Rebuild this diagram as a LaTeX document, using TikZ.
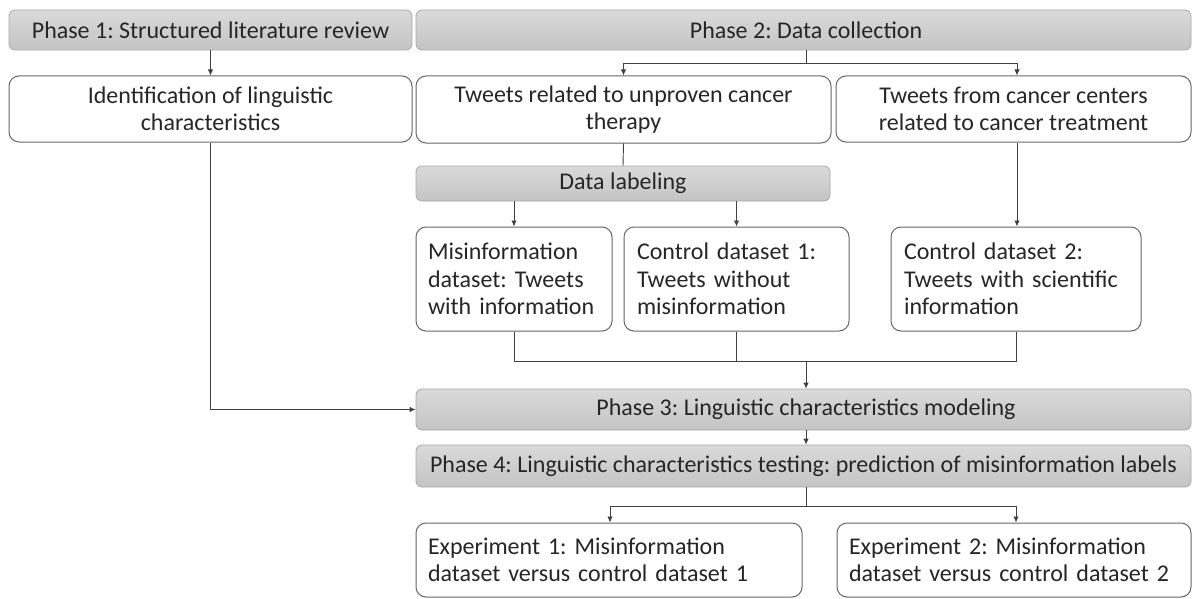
\documentclass[tikz,border=0pt]{standalone}
\usepackage{fontspec}
\setmainfont{Carlito}
\frenchspacing
\usetikzlibrary{arrows.meta,calc}
\definecolor{lineC}{HTML}{404040}
\definecolor{barTop}{HTML}{DADADA}
\definecolor{barBot}{HTML}{C4C4C4}
\definecolor{barBorder}{HTML}{A8A8A8}
\tikzset{
  bar/.style={draw=barBorder, line width=0.8pt, top color=barTop, bottom color=barBot, rounded corners=6pt, inner sep=0pt, font=\fontsize{24}{27.5}\selectfont, text=black!85},
  wbox/.style={draw=lineC!80, line width=1pt, fill=white, rounded corners=10pt, inner sep=0pt, font=\fontsize{24}{27.5}\selectfont, text=black!85},
  conn/.style={draw=lineC, line width=0.9pt},
  arr/.style={conn, -{Latex[length=6pt,width=5.5pt]}}
}
\newcommand{\boxat}[7]{% style, name, x1, y1, x2, y2, text
  \node[#1, minimum width={#5-#3}, minimum height={#6-#4}] (#2) at ({(#3+#5)/2},{(#4+#6)/2}) {#7};}
\begin{document}
\begin{tikzpicture}[x=1pt,y=-1pt]
\useasboundingbox[fill=white] (0,0) rectangle (1193,599);
% bars
\boxat{bar}{p1}{9}{10}{412}{50}{Phase 1: Structured literature review}
\boxat{bar}{p2}{416}{10}{1191}{50}{\hspace*{5pt}Phase 2: Data collection}
\boxat{bar}{dl}{416}{166}{830}{201}{Data labeling}
\boxat{bar}{p3}{416}{389}{1191}{430}{\hspace*{5pt}Phase 3: Linguistic characteristics modeling}
\boxat{bar}{p4}{416}{445}{1191}{487}{Phase 4: Linguistic characteristics testing: prediction of misinformation labels}
% white boxes
\boxat{wbox,align=center}{idf}{9}{76}{412}{142}{Identification of linguistic\\characteristics}
\boxat{wbox,align=center}{t1}{416}{76}{831}{143}{Tweets related to unproven cancer\\therapy}
\boxat{wbox,align=center}{t2}{836}{76}{1191}{142}{Tweets from cancer centers\\related to cancer treatment}
\boxat{wbox,align=left,text width=172pt}{m}{416}{227}{612}{331}{Misinformation\\dataset: Tweets\\with information}
\boxat{wbox,align=left,text width=199pt}{c1}{624}{227}{849}{331}{Control dataset 1:\\Tweets without\\misinformation}
\boxat{wbox,align=left,text width=224pt}{c2}{891}{227}{1141}{331}{Control dataset 2:\\Tweets with scientific\\information}
\boxat{wbox,align=left,text width=362pt}{e1}{416}{523}{802}{597}{Experiment 1: Misinformation\\dataset versus control dataset 1}
\boxat{wbox,align=left,text width=330pt}{e2}{837}{523}{1191}{597}{Experiment 2: Misinformation\\dataset versus control dataset 2}
% helper x-positions
\coordinate (xA) at (806,0);
\coordinate (xB) at (1017,0);
\coordinate (xC) at (610,0);
\coordinate (xD) at (1016,0);
\coordinate (jn2) at (806,63);
\coordinate (jnM) at (806,361);
\coordinate (jn4) at (806,506);
% connectors
\draw[arr] (p1.south) -- (idf.north);
\draw[conn] (xA |- p2.south) -- (jn2);
\draw[arr] (jn2) -| (t1.north);
\draw[arr] (jn2) -| (xB |- t2.north);
\draw[conn] (t1.south) -- (dl.north);
\draw[arr] (dl.south -| m.north) -- (m.north);
\draw[arr] (dl.south -| c1.north) -- (c1.north);
\draw[arr] (xB |- t2.south) -- (xB |- c2.north);
\draw[conn] (m.south) |- (jnM);
\draw[conn] (c1.south) |- (jnM);
\draw[conn] (c2.south) |- (jnM);
\draw[arr] (jnM) -- (xA |- p3.north);
\draw[arr] (idf.south) |- (p3.west);
\draw[arr] (xA |- p3.south) -- (xA |- p4.north);
\draw[conn] (xA |- p4.south) -- (jn4);
\draw[arr] (jn4) -| (xC |- e1.north);
\draw[arr] (jn4) -| (xD |- e2.north);
\end{tikzpicture}
\end{document}
